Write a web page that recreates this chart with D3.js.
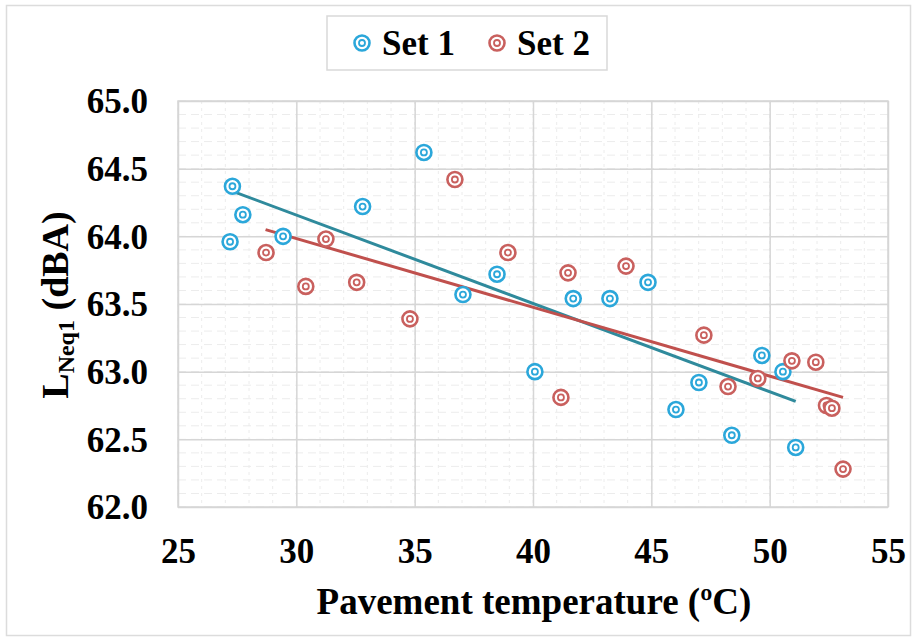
<!DOCTYPE html>
<html><head><meta charset="utf-8">
<script src="https://cdn.jsdelivr.net/npm/d3@7"></script>
<style>body{margin:0;background:#fff}svg{display:block}text{font-family:"Liberation Serif","Times New Roman",serif;font-weight:bold;fill:#000}</style>
</head><body><svg id="c" width="917" height="641"></svg>
<script>
const seriesNames = ["Set 1", "Set 2"];
const set1X = [27.3, 27.74, 27.2, 29.44, 32.8, 35.39, 37.04, 38.48, 40.08, 41.7, 43.25, 44.86, 46.04, 47.01, 48.4, 49.67, 50.56, 51.1];
const set1Y = [64.37, 64.16, 63.96, 64.0, 64.22, 64.62, 63.57, 63.72, 63.0, 63.54, 63.54, 63.66, 62.72, 62.92, 62.53, 63.12, 63.0, 62.44];
const set2X = [28.72, 30.4, 31.25, 32.55, 34.8, 36.7, 38.94, 41.18, 41.48, 43.93, 47.22, 48.24, 49.5, 50.94, 51.95, 52.4, 52.63, 53.1];
const set2Y = [63.88, 63.63, 63.98, 63.66, 63.39, 64.42, 63.88, 62.81, 63.73, 63.78, 63.27, 62.89, 62.95, 63.08, 63.07, 62.75, 62.73, 62.28];
const trend1X = [27.2, 51.1], trend1Y = [64.34, 62.78];
const trend2X = [28.7, 53.1], trend2Y = [64.05, 62.81];
const xTicks = [25, 30, 35, 40, 45, 50, 55];
const yTicks = [62.0, 62.5, 63.0, 63.5, 64.0, 64.5, 65.0];

const markerColors = ["#2ba7da", "#c9605e"];
const lineColors = ["#2f8a9c", "#c0504d"];

const svg = d3.select("#c");
const L = 178, R = 888, T = 101, B = 507;
const x = d3.scaleLinear().domain([25, 55]).range([L, R]);
const y = d3.scaleLinear().domain([62, 65]).range([B, T]);

// outer frame
svg.append("rect").attr("x", 6.5).attr("y", 5.5).attr("width", 904).attr("height", 630)
  .attr("fill", "none").attr("stroke", "#dcdcdc").attr("stroke-width", 1.5);

// minor grid
const g = svg.append("g");
const xMinor = d3.range(25, 55.01, 1);
const yMinor = d3.range(62, 65.001, 0.1);
g.selectAll(".xm").data(xMinor).join("line")
  .attr("x1", d => x(d)).attr("x2", d => x(d)).attr("y1", T).attr("y2", B)
  .attr("stroke", "#ececec").attr("stroke-width", 1).attr("stroke-dasharray", "3,4");
g.selectAll(".ym").data(yMinor).join("line")
  .attr("y1", d => y(d)).attr("y2", d => y(d)).attr("x1", L).attr("x2", R)
  .attr("stroke", "#ececec").attr("stroke-width", 1).attr("stroke-dasharray", "8,5");

// major grid via axes
const xAxis = d3.axisBottom(x).tickValues(xTicks).tickSize(-(B - T)).tickFormat(d3.format("d"));
const yAxis = d3.axisLeft(y).tickValues(yTicks).tickSize(-(R - L)).tickFormat(d3.format(".1f"));
const gx = svg.append("g").attr("transform", `translate(0,${B})`).call(xAxis);
const gy = svg.append("g").attr("transform", `translate(${L},0)`).call(yAxis);
[gx, gy].forEach(a => {
  a.select(".domain").remove();
  a.selectAll(".tick line").attr("stroke", "#d6d6d6").attr("stroke-width", 1.5);
});
gx.selectAll(".tick text").attr("font-size", 35).attr("y", 0).attr("dy", 0)
  .attr("transform", "translate(0,56)").style("font-family", "Liberation Serif").style("font-weight", "bold").attr("fill", "#000");
gy.selectAll(".tick text").attr("font-size", 35).attr("x", -30).attr("dy", "0.34em")
  .style("font-family", "Liberation Serif").style("font-weight", "bold").attr("fill", "#000");

// plot border
svg.append("rect").attr("x", L).attr("y", T).attr("width", R - L).attr("height", B - T)
  .attr("fill", "none").attr("stroke", "#d6d6d6").attr("stroke-width", 1.5);

// trend lines
const line = d3.line().x(d => x(d[0])).y(d => y(d[1]));
[[trend1X, trend1Y], [trend2X, trend2Y]].forEach((t, i) => {
  svg.append("path").datum(d3.zip(t[0], t[1])).attr("d", line)
    .attr("fill", "none").attr("stroke", lineColors[i]).attr("stroke-width", 3);
});

// markers
function marker(sel, color) {
  sel.append("circle").attr("r", 7.5).attr("fill", "#fff").attr("stroke", color).attr("stroke-width", 2.6);
  sel.append("circle").attr("r", 3).attr("fill", "#fff").attr("stroke", color).attr("stroke-width", 1.8);
}
[[set1X, set1Y], [set2X, set2Y]].forEach((s, i) => {
  const pts = d3.zip(s[0], s[1]);
  svg.append("g").selectAll("g").data(pts).join("g")
    .attr("transform", d => `translate(${x(d[0])},${y(d[1])})`)
    .each(function () { marker(d3.select(this), markerColors[i]); });
});

// legend
svg.append("rect").attr("x", 327).attr("y", 16).attr("width", 280).attr("height", 54)
  .attr("fill", "#fff").attr("stroke", "#d9d9d9").attr("stroke-width", 1.5);
const legX = [362, 497];
seriesNames.forEach((n, i) => {
  const lg = svg.append("g").attr("transform", `translate(${legX[i]},43)`);
  marker(lg, markerColors[i]);
  lg.append("text").attr("x", 20).attr("y", 12).attr("font-size", 35).text(n);
});

// axis titles
svg.append("text").attr("x", 534).attr("y", 614).attr("text-anchor", "middle").attr("font-size", 37)
  .text("Pavement temperature (ºC)");
const yt = svg.append("text").attr("transform", "translate(68,305) rotate(-90)").attr("text-anchor", "middle").attr("font-size", 38);
yt.append("tspan").text("L");
yt.append("tspan").attr("font-size", 24).attr("dy", 6).text("Neq1");
yt.append("tspan").attr("dy", -6).text(" (dBA)");
</script></body></html>
